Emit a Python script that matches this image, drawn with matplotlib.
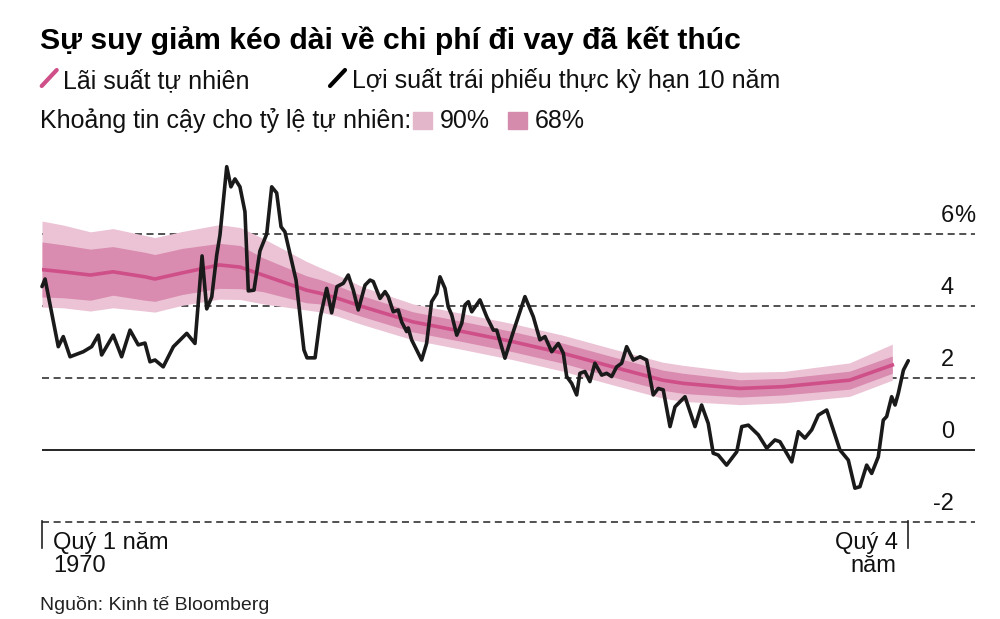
import matplotlib
matplotlib.use("Agg")
import matplotlib.pyplot as plt
from matplotlib.lines import Line2D
from matplotlib.patches import Rectangle
import numpy as np

plt.rcParams['font.family'] = ['Liberation Sans', 'DejaVu Sans']

# Natural rate (r*) with confidence bands
rstar_years = [1970.0, 1971.3, 1973.0, 1974.4, 1976.4, 1977.0, 1978.7, 1981.0, 1982.3,
               1983.7, 1986.4, 1987.2, 1988.3, 1989.9, 1993.0, 1996.1, 1999.2, 2002.3,
               2005.4, 2008.5, 2009.8, 2013.3, 2016.0, 2020.1, 2022.75]
rstar = [5.01, 4.95, 4.86, 4.95, 4.81, 4.75, 4.92, 5.14, 5.08,
         4.86, 4.44, 4.36, 4.22, 3.98, 3.56, 3.29, 3.01, 2.69,
         2.31, 1.94, 1.85, 1.71, 1.76, 1.94, 2.36]
up90 = [1.35, 1.30, 1.20, 1.20, 1.15, 1.15, 1.15, 1.12, 1.10,
        1.02, 0.80, 0.72, 0.65, 0.55, 0.50, 0.50, 0.50, 0.50,
        0.50, 0.50, 0.50, 0.45, 0.42, 0.48, 0.58]
dn90 = [1.04, 1.00, 1.00, 1.00, 0.95, 0.92, 0.90, 0.95, 0.90,
        0.80, 0.55, 0.52, 0.50, 0.50, 0.50, 0.50, 0.50, 0.50,
        0.50, 0.50, 0.50, 0.45, 0.45, 0.45, 0.42]
up68 = [0.77, 0.75, 0.72, 0.70, 0.68, 0.68, 0.68, 0.60, 0.60,
        0.48, 0.40, 0.38, 0.35, 0.30, 0.28, 0.28, 0.28, 0.28,
        0.28, 0.28, 0.28, 0.24, 0.23, 0.25, 0.25]
dn68 = [0.76, 0.72, 0.70, 0.65, 0.65, 0.62, 0.60, 0.65, 0.60,
        0.46, 0.35, 0.30, 0.28, 0.28, 0.28, 0.28, 0.28, 0.28,
        0.28, 0.28, 0.28, 0.24, 0.23, 0.25, 0.23]

# 10-year real yield
yld_years = [1970.0, 1970.19, 1971.01, 1971.32, 1971.74, 1972.56, 1973.08, 1973.49, 1973.70,
             1974.42, 1974.94, 1975.46, 1975.97, 1976.39, 1976.70, 1977.01, 1977.52, 1978.15,
             1978.98, 1979.49, 1979.93, 1980.22, 1980.53, 1980.84, 1981.04, 1981.46, 1981.72,
             1981.97, 1982.28, 1982.59, 1982.80, 1983.15, 1983.52, 1983.94, 1984.25, 1984.56,
             1984.83, 1985.07, 1985.76, 1986.25, 1986.44, 1986.94, 1987.28, 1987.66, 1987.97,
             1988.30, 1988.69, 1989.00, 1989.31, 1989.62, 1990.04, 1990.35, 1990.55, 1990.97,
             1991.28, 1991.48, 1991.79, 1992.10, 1992.31, 1992.62, 1992.72, 1992.93, 1993.55,
             1993.86, 1994.17, 1994.49, 1994.69, 1995.00, 1995.20, 1995.42, 1995.73, 1996.04,
             1996.24, 1996.45, 1996.66, 1997.17, 1997.59, 1998.00, 1998.21, 1998.72, 1999.24,
             1999.96, 2000.48, 2000.89, 2001.20, 2001.62, 2002.03, 2002.34, 2002.55, 2002.86,
             2003.17, 2003.37, 2003.68, 2003.99, 2004.30, 2004.72, 2005.03, 2005.34, 2005.65,
             2005.96, 2006.27, 2006.68, 2007.10, 2007.51, 2007.92, 2008.23, 2008.54, 2008.96,
             2009.27, 2009.58, 2009.89, 2010.51, 2010.92, 2011.33, 2011.64, 2011.95, 2012.47,
             2013.10, 2013.41, 2013.82, 2014.44, 2014.96, 2015.47, 2015.78, 2016.51, 2016.92,
             2017.33, 2017.75, 2018.16, 2018.68, 2019.09, 2019.50, 2020.02, 2020.43, 2020.74,
             2021.16, 2021.47, 2021.88, 2022.19, 2022.40, 2022.71, 2022.92, 2023.12, 2023.44,
             2023.74]
yld = [4.54, 4.75, 2.87, 3.15, 2.59, 2.73, 2.87, 3.19, 2.64,
       3.19, 2.59, 3.33, 2.92, 2.97, 2.45, 2.50, 2.31, 2.87,
       3.24, 2.96, 5.39, 3.92, 4.25, 5.42, 5.97, 7.87, 7.31,
       7.53, 7.31, 6.62, 4.42, 4.44, 5.53, 6.00, 7.31, 7.14,
       6.20, 6.06, 4.72, 2.78, 2.56, 2.56, 3.72, 4.49, 3.81,
       4.54, 4.63, 4.86, 4.44, 3.89, 4.58, 4.72, 4.68, 4.21,
       4.40, 4.26, 3.84, 3.89, 3.56, 3.29, 3.39, 3.06, 2.50,
       2.96, 4.12, 4.35, 4.81, 4.49, 3.98, 3.75, 3.19, 3.52,
       4.03, 4.12, 3.84, 4.17, 3.70, 3.33, 3.33, 2.55, 3.29,
       4.26, 3.70, 3.06, 3.15, 2.73, 2.96, 2.69, 2.04, 1.85,
       1.53, 2.13, 2.18, 1.90, 2.41, 2.08, 2.13, 2.04, 2.31,
       2.41, 2.87, 2.50, 2.59, 2.50, 1.53, 1.71, 1.67, 0.65,
       1.20, 1.34, 1.48, 0.65, 1.25, 0.74, -0.09, -0.14, -0.42,
       -0.05, 0.65, 0.69, 0.42, 0.05, 0.28, 0.23, -0.33, 0.51,
       0.33, 0.56, 0.97, 1.11, 0.56, 0.00, -0.28, -1.06, -1.02,
       -0.42, -0.65, -0.19, 0.83, 0.93, 1.48, 1.25, 1.57, 2.22,
       2.48]

grid_levels = [6, 4, 2, -2]
ytick_vals = [6, 4, 2, 0, -2]
ytick_text = ["6", "4", "2", "0", "-2"]

c_line = "#cf4f89"
c_68 = "#d98bb0"
c_90 = "#ebc3d5"
txt = "#111111"

fig = plt.figure(figsize=(10, 6.19), dpi=100)
ax = fig.add_axes([0.042, 1 - 525.6 / 619, 0.933, (525.6 - 144) / 619])
ax.set_xlim(1970, 2027.88)
ax.set_ylim(-2.1, 8.5)
ax.axis('off')

dash = (4.6, 3)
for g in grid_levels:
    ax.axhline(g, color="#222222", lw=1.1, dashes=dash, zorder=1)
ax.axhline(0, color="black", lw=1.2, zorder=4)

r = np.array(rstar)
ax.fill_between(rstar_years, r - np.array(dn90), r + np.array(up90), color=c_90, lw=0, zorder=2)
ax.fill_between(rstar_years, r - np.array(dn68), r + np.array(up68), color=c_68, lw=0, zorder=3)
ax.plot(rstar_years, rstar, color=c_line, lw=2.6, zorder=4)
ax.plot(yld_years, yld, color="#1a1a1a", lw=2.6, zorder=5, clip_on=False,
        solid_joinstyle='round', solid_capstyle='round')

for v, t in zip(ytick_vals, ytick_text):
    ax.text(2026.58, v + 0.33, t, ha='right', va='baseline', fontsize=17, color=txt)
ax.text(2026.58, 6.33, "%", ha='left', va='baseline', fontsize=17, color=txt)

# x ticks below the plot
for xt in [1970, 2023.75]:
    ax.axvline(xt, ymin=-0.059, ymax=0.012, color="#222222", lw=1.2, clip_on=False)
fig.text(0.053, 1 - 549 / 619, "Quý 1 năm", fontsize=17, ha='left', va='baseline', color=txt)
fig.text(0.053, 1 - 572 / 619, "1970", fontsize=17, ha='left', va='baseline', color=txt)
fig.text(0.898, 1 - 549 / 619, "Quý 4", fontsize=17, ha='right', va='baseline', color=txt)
fig.text(0.896, 1 - 572 / 619, "năm", fontsize=17, ha='right', va='baseline', color=txt)

# title and legend
fig.text(0.040, 1 - 49 / 619, "Sự suy giảm kéo dài về chi phí đi vay đã kết thúc",
         fontsize=21.7, fontweight='bold', ha='left', va='baseline', color="#000000")
fig.add_artist(Line2D([0.0417, 0.0567], [1 - 86 / 619, 1 - 70 / 619], color=c_line, lw=3,
                      solid_capstyle='round', transform=fig.transFigure))
fig.text(0.063, 1 - 88 / 619, "Lãi suất tự nhiên", fontsize=18, ha='left', va='baseline', color=txt)
fig.add_artist(Line2D([0.330, 0.345], [1 - 86 / 619, 1 - 70 / 619], color="black", lw=3,
                      solid_capstyle='round', transform=fig.transFigure))
fig.text(0.352, 1 - 88 / 619, "Lợi suất trái phiếu thực kỳ hạn 10 năm", fontsize=18,
         ha='left', va='baseline', color=txt)
fig.text(0.040, 1 - 128 / 619, "Khoảng tin cậy cho tỷ lệ tự nhiên:", fontsize=18,
         ha='left', va='baseline', color=txt)
fig.add_artist(Rectangle((0.413, 1 - 129 / 619), 0.019, 17 / 619, color="#e4b6ca",
                         transform=fig.transFigure))
fig.text(0.440, 1 - 128 / 619, "90%", fontsize=18, ha='left', va='baseline', color=txt)
fig.add_artist(Rectangle((0.508, 1 - 129 / 619), 0.019, 17 / 619, color="#d58bac",
                         transform=fig.transFigure))
fig.text(0.535, 1 - 128 / 619, "68%", fontsize=18, ha='left', va='baseline', color=txt)

fig.text(0.040, 1 - 610 / 619, "Nguồn: Kinh tế Bloomberg", fontsize=14, ha='left',
         va='baseline', color="#222222")

fig.savefig("out.png", dpi=100)
